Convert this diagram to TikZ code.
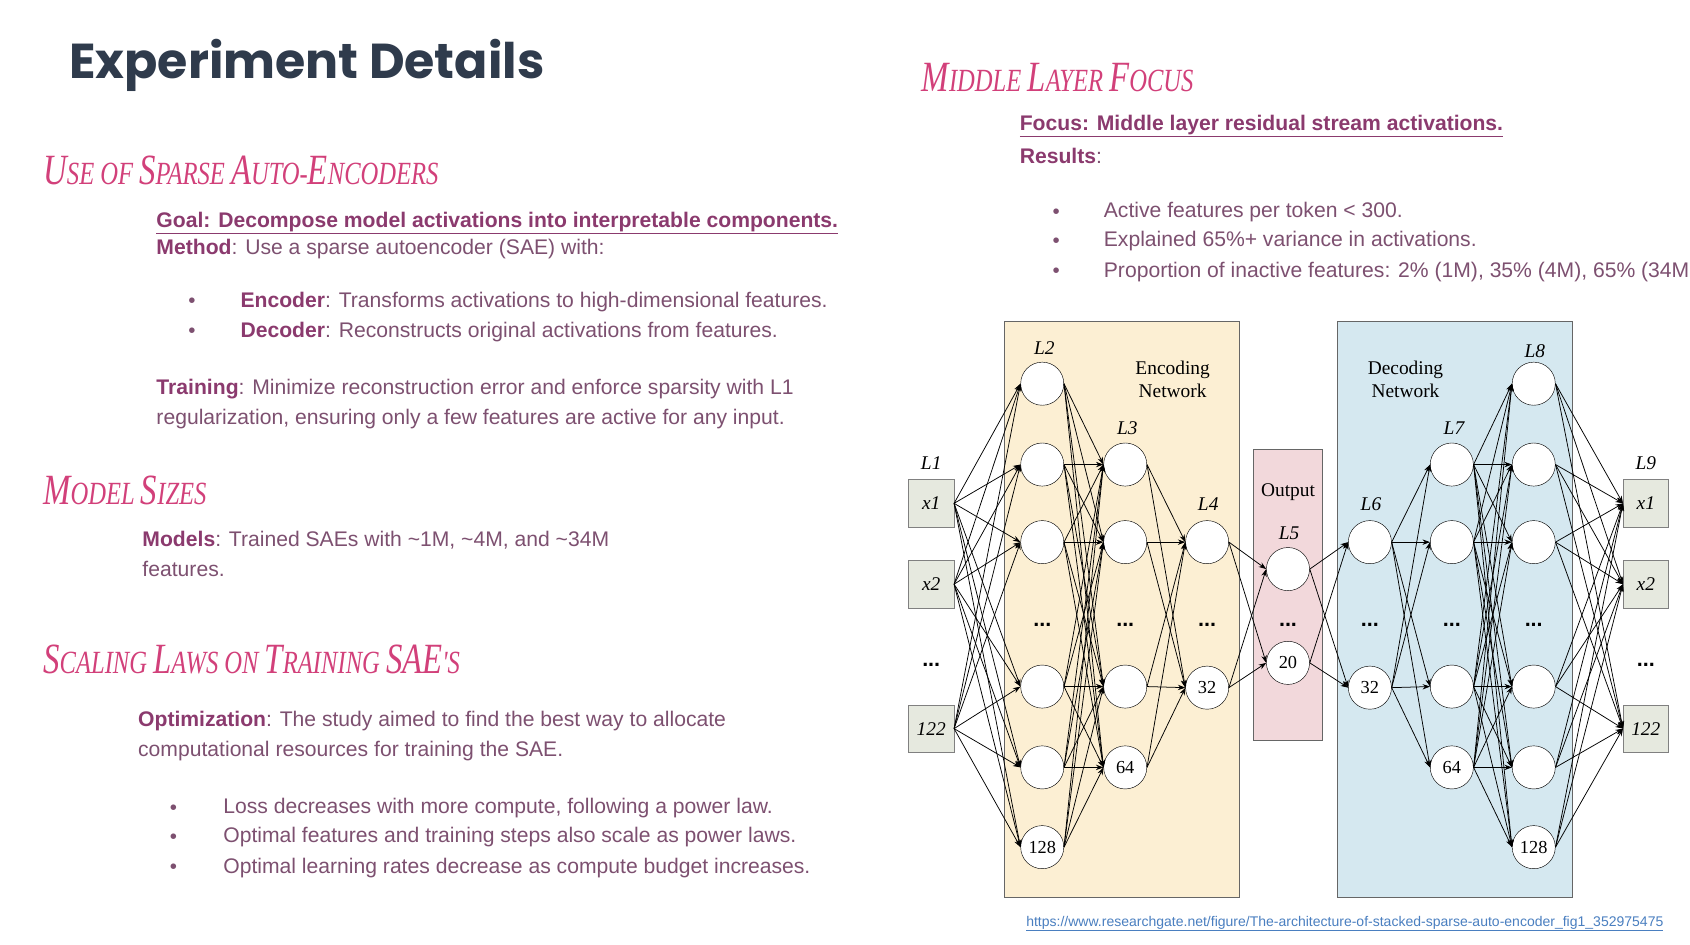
\documentclass[tikz,border=0pt]{standalone}
\usepackage{fontspec}
\usepackage{graphicx}
\setmainfont{Liberation Sans}
\newfontfamily\serifnet{Liberation Serif}
\newfontfamily\titlefont{Poppins}
\usetikzlibrary{arrows.meta}
\definecolor{pinkh}{HTML}{D2407A}
\definecolor{boldp}{HTML}{8B3A6E}
\definecolor{regp}{HTML}{7D5070}
\definecolor{titlec}{HTML}{2F3B4C}
\definecolor{encf}{HTML}{FCEFD3}
\definecolor{decf}{HTML}{D5E8F0}
\definecolor{outf}{HTML}{F2D8DB}
\definecolor{inpf}{HTML}{E6E9DF}
\definecolor{linkc}{HTML}{4A7FC0}
\newcommand\bigL[1]{{\fontsize{40}{40}\selectfont #1}}
\newcommand\hd[1]{\scalebox{0.76}[1]{#1}}
\begin{document}
\begin{tikzpicture}[x=1pt,y=-1pt,
  txt/.style={anchor=west,inner sep=0pt,font=\fontsize{19.6}{27}\selectfont,text=regp},
  head/.style={anchor=west,inner sep=0pt,text=pinkh,font=\fontsize{30}{40}\selectfont\serifnet\itshape},
  bul/.style={inner sep=0pt,text=regp,font=\fontsize{19}{20}\selectfont},
  neu/.style={circle,draw,fill=white,minimum size=40pt,inner sep=0pt,font=\fontsize{17}{17}\selectfont\serifnet},
  inp/.style={draw=gray,fill=inpf,minimum width=42pt,minimum height=44pt,inner sep=0pt,font=\fontsize{18}{18}\selectfont\serifnet\itshape},
  dts/.style={inner sep=0pt,font=\fontsize{20}{20}\selectfont\bfseries},
  lab/.style={inner sep=0pt,font=\fontsize{18}{18}\selectfont\serifnet\itshape},
  box/.style={draw=gray!80!black,line width=0.8pt},
  net/.style={font=\fontsize{18}{21}\selectfont\serifnet,align=center,inner sep=0pt},
  ed/.style={line width=0.7pt,-{Stealth[length=7pt,width=5pt]}}]
\useasboundingbox[fill=white] (0,0) rectangle (1568,876);
% left text
\node[anchor=west,inner sep=0pt,text=titlec,font=\fontsize{45.5}{50}\selectfont\titlefont\bfseries] (title) at (64,61) {Experiment Details};
\node[head] (h1) at (40,158) {\hd{\bigL{U}SE OF \bigL{S}PARSE \bigL{A}UTO-\bigL{E}NCODERS}};
\node[txt,text=boldp,font=\fontsize{19.6}{27}\selectfont\bfseries] (goal) at (145,207) {\underline{Goal: Decompose model activations into interpretable components.}};
\node[txt] (meth) at (145,231) {\textbf{\color{boldp}Method}: Use a sparse autoencoder (SAE) with:};
\node[bul] (b1) at (178,281) {•};
\node[txt] (t1) at (223,280) {\textbf{\color{boldp}Encoder}: Transforms activations to high-dimensional features.};
\node[bul] (b2) at (178,309) {•};
\node[txt] (t2) at (223,308) {\textbf{\color{boldp}Decoder}: Reconstructs original activations from features.};
\node[txt] (tr1) at (145,361) {\textbf{\color{boldp}Training}: Minimize reconstruction error and enforce sparsity with L1};
\node[txt] (tr2) at (145,389) {regularization, ensuring only a few features are active for any input.};
\node[head] (h2) at (40,455) {\hd{\bigL{M}ODEL \bigL{S}IZES}};
\node[txt] (m1) at (132,501) {\textbf{\color{boldp}Models}: Trained SAEs with \textasciitilde1M, \textasciitilde4M, and \textasciitilde34M};
\node[txt] (m2) at (132,528) {features.};
\node[head] (h3) at (40,612) {\hd{\bigL{S}CALING \bigL{L}AWS ON \bigL{T}RAINING \bigL{SAE}'S}};
\node[txt] (o1) at (128,669) {\textbf{\color{boldp}Optimization}: The study aimed to find the best way to allocate};
\node[txt] (o2) at (128,697) {computational resources for training the SAE.};
\node[bul] (b3) at (161,751) {•};
\node[txt] (s1) at (207,750) {Loss decreases with more compute, following a power law.};
\node[bul] (b4) at (161,778) {•};
\node[txt] (s2) at (207,777) {Optimal features and training steps also scale as power laws.};
\node[bul] (b5) at (161,806) {•};
\node[txt] (s3) at (207,805) {Optimal learning rates decrease as compute budget increases.};
% right text
\node[head] (h4) at (855,72) {\hd{\bigL{M}IDDLE \bigL{L}AYER \bigL{F}OCUS}};
\node[txt,text=boldp,font=\fontsize{19.6}{27}\selectfont\bfseries] (foc) at (946,117) {\underline{Focus: Middle layer residual stream activations.}};
\node[txt] (res) at (946,145) {\textbf{\color{boldp}Results}:};
\node[bul] (b6) at (980,198) {•};
\node[txt] (r1) at (1024,197) {Active features per token < 300.};
\node[bul] (b7) at (980,225) {•};
\node[txt] (r2) at (1024,224) {Explained 65\%+ variance in activations.};
\node[bul] (b8) at (980,253) {•};
\node[txt] (r3) at (1024,252) {Proportion of inactive features: 2\% (1M), 35\% (4M), 65\% (34M};
\node[anchor=west,inner sep=0pt,text=linkc,font=\fontsize{13}{14}\selectfont] (url) at (952,857) {\underline{https://www.researchgate.net/figure/The-architecture-of-stacked-sparse-auto-encoder\_fig1\_352975475}};
% boxes
\node[box,fill=encf,minimum width=218pt,minimum height=535pt,inner sep=0pt] (enc) at (1041,565.5) {};
\node[box,fill=decf,minimum width=218pt,minimum height=535pt,inner sep=0pt] (dec) at (1350,565.5) {};
\node[box,fill=outf,minimum width=64pt,minimum height=270pt,inner sep=0pt] (outb) at (1195,552) {};
\node[net] (encl) at (1088,352) {Encoding\\Network};
\node[net] (decl) at (1304,352) {Decoding\\Network};
\node[net] (outl) at (1195,457) {Output};
% layer labels
\node[lab] (l1) at (864,430) {L1};
\node[lab] (l2) at (969,323) {L2};
\node[lab] (l3) at (1046,397) {L3};
\node[lab] (l4) at (1121,468) {L4};
\node[lab] (l5) at (1196,495) {L5};
\node[lab] (l6) at (1272,468) {L6};
\node[lab] (l7) at (1349,397) {L7};
\node[lab] (l8) at (1424,326) {L8};
\node[lab] (l9) at (1527,430) {L9};
% L1 / L9
\node[inp] (a1) at (864,467) {x1};
\node[inp] (a2) at (864,542) {x2};
\node[dts] (ad) at (864,617) {...};
\node[inp] (a3) at (864,676) {122};
\node[inp] (i1) at (1527,467) {x1};
\node[inp] (i2) at (1527,542) {x2};
\node[dts] (id) at (1527,617) {...};
\node[inp] (i3) at (1527,676) {122};
% L2, L8
\foreach \n/\x in {b/967,h/1423}{
  \node[neu] (\n1) at (\x,356) {};
  \node[neu] (\n2) at (\x,431) {};
  \node[neu] (\n3) at (\x,503) {};
  \node[dts] (\n d) at (\x,580) {...};
  \node[neu] (\n4) at (\x,637) {};
  \node[neu] (\n5) at (\x,712) {};
  \node[neu] (\n6) at (\x,786) {128};
}
\foreach \n/\x in {c/1044,g/1347}{
  \node[neu] (\n1) at (\x,431) {};
  \node[neu] (\n2) at (\x,503) {};
  \node[dts] (\n d) at (\x,580) {...};
  \node[neu] (\n3) at (\x,637) {};
  \node[neu] (\n4) at (\x,712) {64};
}
\foreach \n/\x in {d/1120,f/1271}{
  \node[neu] (\n1) at (\x,503) {};
  \node[dts] (\n d) at (\x,580) {...};
  \node[neu] (\n2) at (\x,638) {32};
}
\node[neu] (e1) at (1195,528) {};
\node[dts] (ed) at (1195,580) {...};
\node[neu] (e2) at (1195,615) {20};
% edges
\foreach \s in {a1,a2,a3}{\foreach \t in {b1,b2,b3,b4,b5,b6}{\draw[ed] (\s.east) -- (\t.west);}}
\foreach \s in {b1,b2,b3,b4,b5,b6}{\foreach \t in {c1,c2,c3,c4}{\draw[ed] (\s.east) -- (\t.west);}}
\foreach \s in {c1,c2,c3,c4}{\foreach \t in {d1,d2}{\draw[ed] (\s.east) -- (\t.west);}}
\foreach \s in {d1,d2}{\foreach \t in {e1,e2}{\draw[ed] (\s.east) -- (\t.west);}}
\foreach \s in {e1,e2}{\foreach \t in {f1,f2}{\draw[ed] (\s.east) -- (\t.west);}}
\foreach \s in {f1,f2}{\foreach \t in {g1,g2,g3,g4}{\draw[ed] (\s.east) -- (\t.west);}}
\foreach \s in {g1,g2,g3,g4}{\foreach \t in {h1,h2,h3,h4,h5,h6}{\draw[ed] (\s.east) -- (\t.west);}}
\foreach \s in {h1,h2,h3,h4,h5,h6}{\foreach \t in {i1,i2,i3}{\draw[ed] (\s.east) -- (\t.west);}}
\end{tikzpicture}
\end{document}
